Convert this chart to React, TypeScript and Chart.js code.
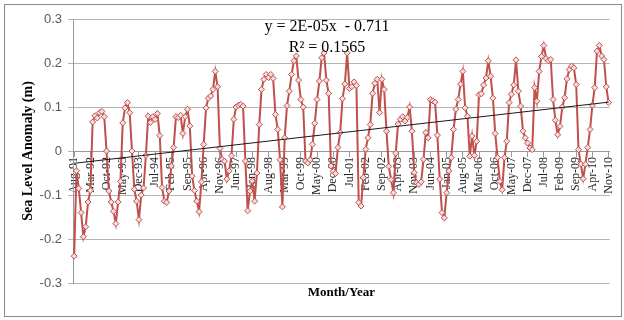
import React, { useEffect, useRef } from 'react';
import { Chart, registerables } from 'chart.js';

Chart.register(...registerables);

// Monthly series Aug-91 .. Nov-10 (232 months)
const startYear = 1991;
const startMonthIndex = 7; // August
const monthCount = 232;
const monthNames = ['Jan', 'Feb', 'Mar', 'Apr', 'May', 'Jun', 'Jul', 'Aug', 'Sep', 'Oct', 'Nov', 'Dec'];

// Tick labels shown on the axis (every 7th month)
const tickLabels = [
  'Aug-91', 'Mar-92', 'Oct-92', 'May-93', 'Dec-93', 'Jul-94', 'Feb-95', 'Sep-95', 'Apr-96',
  'Nov-96', 'Jun-97', 'Jan-98', 'Aug-98', 'Mar-99', 'Oct-99', 'May-00', 'Dec-00', 'Jul-01',
  'Feb-02', 'Sep-02', 'Apr-03', 'Nov-03', 'Jun-04', 'Jan-05', 'Aug-05', 'Mar-06', 'Oct-06',
  'May-07', 'Dec-07', 'Jul-08', 'Feb-09', 'Sep-09', 'Apr-10', 'Nov-10',
];
const tickEvery = 7;

// Sea level anomaly (m)
const slaAug91toJul95 = [
  -0.239, -0.045, -0.085, -0.14, -0.195, -0.172, -0.116, -0.09, 0.066, 0.08, 0.075, 0.087,
  0.09, 0.078, 0.0, -0.091, -0.116, -0.137, -0.165, -0.116, -0.069, 0.064, 0.098, 0.11,
  0.087, 0.0, -0.087, -0.114, -0.156, -0.1, -0.084, -0.01, 0.079, 0.065, 0.078, 0.072,
  0.085, 0.035, -0.083, -0.114, -0.117, -0.091, -0.034, 0.008, 0.078, 0.076, 0.081, 0.04,
];
const slaAug95toJul99 = [
  0.078, 0.095, 0.057, -0.057, -0.09, -0.114, -0.138, -0.07, 0.015, 0.098, 0.12, 0.125,
  0.14, 0.181, 0.146, 0.006, -0.019, -0.023, -0.064, -0.045, -0.011, 0.072, 0.1, 0.104,
  0.106, 0.102, -0.023, -0.136, -0.091, -0.068, -0.114, -0.05, 0.06, 0.14, 0.163, 0.174,
  0.167, 0.174, 0.165, 0.083, 0.049, -0.02, -0.127, 0.03, 0.103, 0.136, 0.174, 0.205,
];
const slaAug99toJul03 = [
  0.216, 0.161, 0.117, 0.1, -0.023, -0.027, -0.02, 0.015, 0.063, 0.117, 0.159, 0.212,
  0.223, 0.161, 0.131, -0.034, -0.046, -0.051, 0.008, 0.042, 0.119, 0.152, 0.223, 0.142,
  0.146, 0.157, 0.149, -0.117, -0.125, -0.06, 0.004, 0.03, 0.06, 0.131, 0.154, 0.163,
  0.087, 0.163, 0.14, 0.045, -0.035, -0.065, -0.095, -0.005, 0.061, 0.072, 0.078, 0.068,
];
const slaAug03toJul07 = [
  0.076, 0.1, 0.045, -0.049, -0.072, -0.076, -0.07, -0.019, 0.042, 0.03, 0.117, 0.114,
  0.111, 0.036, -0.064, -0.14, -0.152, -0.095, -0.045, -0.015, 0.049, 0.095, 0.117, 0.152,
  0.181, 0.098, 0.079, -0.012, 0.034, -0.01, 0.022, 0.128, 0.13, 0.15, 0.166, 0.205,
  0.17, 0.12, 0.04, -0.015, -0.069, -0.088, -0.015, 0.022, 0.11, 0.129, 0.15, 0.207,
];
const slaAug07toNov10 = [
  0.136, 0.102, 0.045, 0.03, 0.018, 0.007, 0.003, 0.144, 0.113, 0.181, 0.215, 0.24,
  0.21, 0.205, 0.208, 0.117, 0.07, 0.037, 0.056, 0.1, 0.121, 0.164, 0.185, 0.193,
  0.189, 0.151, 0.003, -0.03, -0.063, -0.03, 0.008, 0.049, 0.104, 0.144, 0.227, 0.24,
  0.216, 0.208, 0.146, 0.11,
];

// Linear trend line end values (first and last month)
const trendEnds = [-0.028, 0.111];
const equationLines = ['y = 2E-05x  - 0.711', 'R\u00b2 = 0.1565'];

const yTicks = { min: -0.3, max: 0.3, step: 0.1 };

export default function App() {
  const canvasRef = useRef<HTMLCanvasElement | null>(null);

  useEffect(() => {
    document.body.style.margin = '0';
    const canvas = canvasRef.current;
    if (!canvas) return;

    const categories: string[] = [];
    for (let i = 0; i < monthCount; i++) {
      const m = startMonthIndex + i;
      const yr = (startYear + Math.floor(m / 12)) % 100;
      categories.push(monthNames[m % 12] + '-' + String(yr).padStart(2, '0'));
    }
    const seaLevel = [
      ...slaAug91toJul95,
      ...slaAug95toJul99,
      ...slaAug99toJul03,
      ...slaAug03toJul07,
      ...slaAug07toNov10,
    ];
    const trend = categories.map((_, i) =>
      i === 0 ? trendEnds[0] : i === categories.length - 1 ? trendEnds[1] : null
    );

    const framePlugin = {
      id: 'frame',
      beforeDraw(chart: any) {
        const { ctx, width, height } = chart;
        ctx.save();
        ctx.fillStyle = '#ffffff';
        ctx.fillRect(0, 0, width, height);
        ctx.restore();
      },
      afterDraw(chart: any) {
        const { ctx, chartArea } = chart;
        ctx.save();
        ctx.strokeStyle = '#8a8a8a';
        ctx.lineWidth = 1;
        ctx.strokeRect(4.5, 4.5, 617, 312);
        ctx.fillStyle = '#000000';
        ctx.textAlign = 'center';
        ctx.textBaseline = 'middle';
        ctx.font = '16px "Liberation Serif"';
        ctx.fillText(equationLines[0], 327, 27);
        ctx.fillText(equationLines[1], 327, 48);
        ctx.font = 'bold 13px "Liberation Serif"';
        ctx.fillText('Month/Year', (chartArea.left + chartArea.right) / 2, 293);
        ctx.restore();
      },
    };

    const chart = new Chart(canvas, {
      type: 'line',
      data: {
        labels: categories,
        datasets: [
          {
            label: 'Linear trend',
            data: trend,
            borderColor: '#1a1a1a',
            borderWidth: 1,
            pointRadius: 0,
            spanGaps: true,
            fill: false,
          },
          {
            label: 'Sea Level Anomaly',
            data: seaLevel,
            borderColor: '#c0504d',
            borderWidth: 2,
            pointStyle: 'rectRot',
            pointRadius: 3,
            pointBorderWidth: 1,
            pointBorderColor: '#c0504d',
            pointBackgroundColor: '#f4dedd',
            tension: 0,
            fill: false,
          },
        ],
      },
      options: {
        responsive: false,
        animation: false,
        events: [],
        layout: { padding: { left: 4, right: 9, top: 19, bottom: 37 } },
        plugins: {
          legend: { display: false },
          tooltip: { enabled: false },
        },
        scales: {
          x: {
            type: 'category',
            position: { y: 0 } as any,
            offset: true,
            grid: {
              display: true,
              drawOnChartArea: false,
              drawTicks: true,
              tickLength: 5,
              color: '#9a9a9a',
            },
            border: { display: true, color: '#9a9a9a', width: 1 },
            ticks: {
              autoSkip: false,
              minRotation: 90,
              maxRotation: 90,
              padding: 1,
              color: '#262626',
              font: { family: '"Liberation Serif"', size: 12 },
              callback: (_v: any, idx: number) =>
                idx % tickEvery === 0 ? tickLabels[idx / tickEvery] : null,
            },
          },
          y: {
            position: 'left',
            min: yTicks.min,
            max: yTicks.max,
            afterFit: (scale: any) => {
              scale.width = 69;
            },
            grid: {
              color: '#b5b5b5',
              lineWidth: 1,
              drawTicks: true,
              tickLength: 5,
            },
            border: { display: true, color: '#9a9a9a', width: 1 },
            ticks: {
              stepSize: yTicks.step,
              padding: 6,
              color: '#595959',
              font: { family: '"Liberation Sans"', size: 13 },
              callback: (v: any) => {
                const r = Math.round(Number(v) * 10) / 10;
                return r === 0 ? '0' : String(r);
              },
            },
            title: {
              display: true,
              text: 'Sea Level Anomaly (m)',
              color: '#000000',
              font: { family: '"Liberation Serif"', size: 14, weight: 'bold' },
              padding: { top: 16, bottom: 0 },
            },
          },
        },
      },
      plugins: [framePlugin],
    });

    return () => chart.destroy();
  }, []);

  return (
    <div style={{ width: 624, height: 320 }}>
      <canvas ref={canvasRef} width={624} height={320} style={{ display: 'block' }} />
    </div>
  );
}
